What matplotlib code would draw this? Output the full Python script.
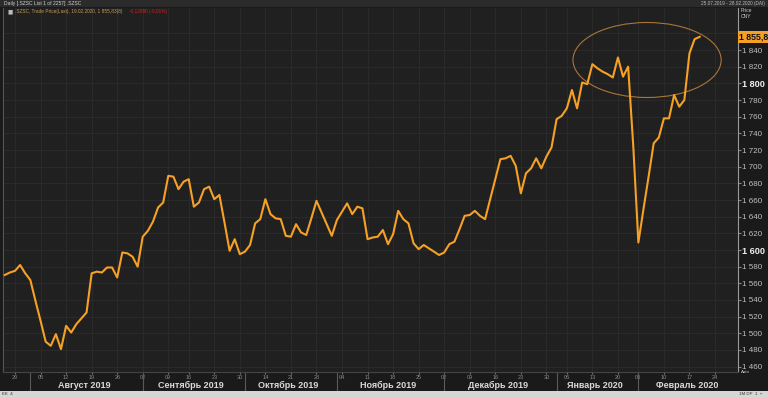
import matplotlib.pyplot as plt
from matplotlib.patches import Ellipse, Rectangle
import pandas as pd

# trading days of the SZSE (weekdays minus exchange holidays)
holidays = ['2019-09-13', '2019-10-01', '2019-10-02', '2019-10-03', '2019-10-04',
            '2019-10-07', '2020-01-01', '2020-01-24', '2020-01-27', '2020-01-28',
            '2020-01-29', '2020-01-30', '2020-01-31']
days = pd.bdate_range('2019-07-25', '2020-02-28')
days = days[~days.isin(pd.to_datetime(holidays))]

# .SZSC close, 25.07.2019 - 19.02.2020
close = [1570, 1573, 1575, 1582, 1572, 1564, 1539, 1515, 1490, 1485,
         1499, 1481, 1509, 1501, 1511, 1518, 1525, 1572, 1574, 1573,
         1579, 1579, 1567, 1597, 1596, 1592, 1580, 1616, 1623, 1634,
         1651, 1657, 1689, 1688, 1673, 1682, 1685, 1652, 1657, 1673,
         1676, 1661, 1666, 1633, 1599, 1613, 1595, 1598, 1606, 1632,
         1637, 1661, 1643, 1638, 1637, 1617, 1616, 1631, 1621, 1618,
         1638, 1659, 1645, 1631, 1617, 1636, 1646, 1656, 1643, 1652,
         1650, 1613, 1615, 1616, 1624, 1607, 1619, 1647, 1637, 1632,
         1608, 1601, 1606, 1602, 1598, 1594, 1597, 1607, 1610, 1625,
         1641, 1642, 1647, 1641, 1637, 1661, 1685, 1709, 1710, 1713,
         1701, 1668, 1692, 1698, 1710, 1698, 1712, 1723, 1757, 1761,
         1770, 1792, 1770, 1801, 1799, 1823, 1818, 1814, 1811, 1807,
         1831, 1808, 1820, 1725, 1609, 1649, 1688, 1728, 1735, 1758,
         1758, 1786, 1772, 1780, 1836, 1853, 1855.8]
last_value = 1855.8

months = ['Август 2019', 'Сентябрь 2019', 'Октябрь 2019', 'Ноябрь 2019',
          'Декабрь 2019', 'Январь 2020', 'Февраль 2020']
yticks = list(range(1460, 1880, 20))

bg = '#202020'
grid = '#2a2a2a'
orange = '#f6a125'
font = 'Liberation Sans'

fig = plt.figure(figsize=(7.68, 3.97), dpi=100, facecolor='#1a1a1a')
W, H = 768, 397
ax = fig.add_axes([3 / W, 1 - 372 / H, 735 / W, 364 / H], facecolor=bg)

x = list(range(len(close)))
ax.plot(x, close, color=orange, lw=1.5, solid_joinstyle='round', zorder=3)

ax.set_xlim(-0.35, 143.5)
ax.set_ylim(1453.6, 1890.4)

# weekly ticks on mondays
mondays = [i for i, d in enumerate(days) if d.weekday() == 0]
ax.set_xticks(mondays)
ax.set_xticklabels([days[i].strftime('%d') for i in mondays], family=font)
ax.tick_params(axis='x', colors='#777777', labelsize=4, length=1.5, pad=1,
               labelcolor='#8a8a8a')

ax.yaxis.tick_right()
ax.set_yticks(yticks)
ax.set_yticklabels([f'{v // 1000} {v % 1000:03d}' for v in yticks], family=font)
ax.tick_params(axis='y', colors='#888888', labelsize=5.8, length=2, pad=1.2,
               labelcolor='#c0c0c0')
for lab, v in zip(ax.get_yticklabels(), yticks):
    if v in (1600, 1800):
        lab.set_fontweight('bold')
        lab.set_fontsize(6.6)
        lab.set_color('#eeeeee')

for v in yticks:
    ax.axhline(v, color=grid, lw=0.8, zorder=0)
for i in mondays:
    ax.axvline(i, color=grid, lw=0.8, zorder=0)

ax.spines['top'].set_visible(False)
ax.spines['right'].set_color('#9a9a9a')
ax.spines['left'].set_color('#555555')
ax.spines['bottom'].set_color('#444444')

# month separators and labels
trans = ax.get_xaxis_transform()
starts = [i for i in range(1, len(days)) if days[i].month != days[i - 1].month]
bounds = starts + [len(days)]
for k, s in enumerate(starts):
    ax.plot([s, s], [0, -0.055], transform=trans, color='#5a5a5a', lw=0.8, clip_on=False)
    ax.text((bounds[k] + bounds[k + 1]) / 2 - 0.5, -0.036, months[k], transform=trans,
            ha='center', va='center', fontsize=6.5, fontweight='bold', color='#d8d8d8',
            family=font)

# highlight ellipse
ax.add_patch(Ellipse((125.7, 1828), 29, 90, fill=False, ec='#a87638', lw=0.8, zorder=2))

# last value box on the price axis
ytr = ax.get_yaxis_transform()
ax.text(1.002, last_value, '1 855,8', transform=ytr, ha='left', va='center',
        fontsize=6.3, fontweight='bold', color='#111111', clip_on=False, family=font,
        bbox=dict(boxstyle='square,pad=0.2', fc=orange, ec='none'))

# header
fig.patches.append(Rectangle((0, 1 - 7 / H), 1, 7 / H, transform=fig.transFigure,
                             fc='#2b2b2b', ec='none'))
fig.text(4 / W, 1 - 3.5 / H, 'Daily [.SZSC List 1 of 2257] .SZSC', fontsize=3.6,
         color='#cfcfcf', va='center', family=font)
fig.text(765 / W, 1 - 3.5 / H, '25.07.2019 - 28.02.2020 (DAI)', fontsize=3.4,
         color='#bbbbbb', va='center', ha='right', family=font)
fig.text(8 / W, 1 - 12 / H, '■', fontsize=4, color='#bbbbbb', va='center')
fig.text(15 / W, 1 - 12 / H, '.SZSC, Trade Price(Last), 19.02.2020, 1 855,83(8)',
         fontsize=3.4, color='#c89a5a', va='center', family=font)
fig.text(129 / W, 1 - 12 / H, '-0,12690 (-0,01%)', fontsize=3.4, color='#d02020',
         va='center', family=font)
fig.text(741 / W, 1 - 11 / H, 'Price', fontsize=3.6, color='#cccccc', va='center',
         family=font)
fig.text(741 / W, 1 - 17 / H, 'CNY', fontsize=3.6, color='#cccccc', va='center',
         family=font)
fig.text(741 / W, 1 - 372 / H, 'Auto', fontsize=3.2, color='#cccccc', va='center',
         family=font)

# status bar
fig.patches.append(Rectangle((0, 0), 1, 6 / H, transform=fig.transFigure,
                             fc='#d6d6d6', ec='none'))
fig.text(2 / W, 3 / H, 'EK  4', fontsize=3.2, color='#333333', va='center', family=font)
fig.text(762 / W, 3 / H, '1M DP  1  »', fontsize=3.2, color='#333333', va='center',
         ha='right', family=font)

fig.savefig('out.png', dpi=100, facecolor=fig.get_facecolor())
